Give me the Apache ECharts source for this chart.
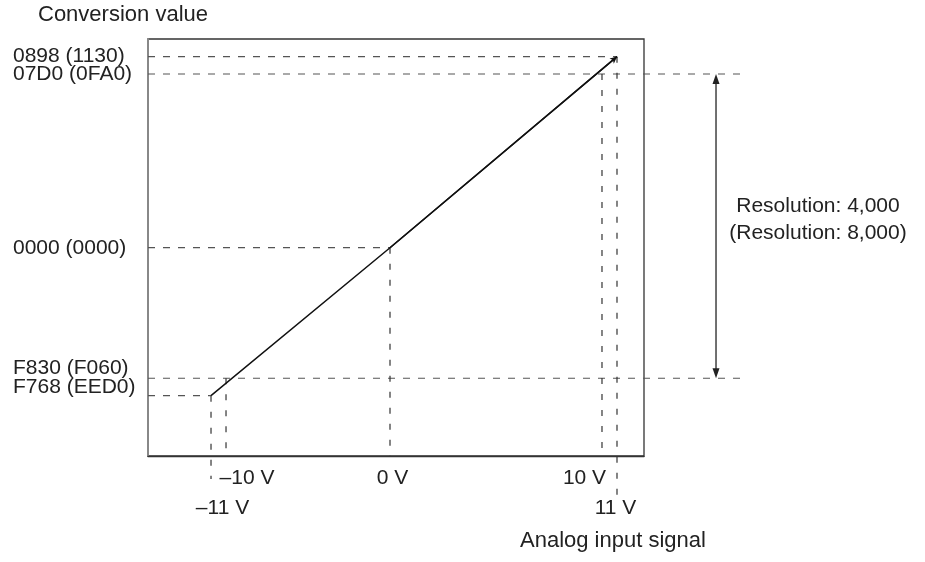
<!DOCTYPE html>
<html>
<head>
<meta charset="utf-8">
<script src="https://cdn.jsdelivr.net/npm/echarts@6/dist/echarts.min.js"></script>
<style>html,body{margin:0;padding:0;background:#fff}#c{width:925px;height:562px}</style>
</head>
<body>
<div id="c"></div>
<script>
// ---------------- data ----------------
const voltTicks = [-11, -10, 0, 10, 11];
const voltLabels = ['–11 V', '–10 V', '0 V', '10 V', '11 V'];
const countTicks = [-2200, -2000, 0, 2000, 2200];
const countLabels = ['F768 (EED0)', 'F830 (F060)', '0000 (0000)', '07D0 (0FA0)', '0898 (1130)'];
const lineVolts = [-11, 0, 11];
const lineCounts = [-2200, 0, 2200];
// dashed guide lines: [x1, y1, x2, y2] in volts / counts
const hGuides = [[-15.2, 2200, 11, 2200], [-15.2, 2000, 19.55, 2000], [-15.2, 0, 0, 0], [-15.2, -2000, 19.55, -2000], [-15.2, -2200, -11, -2200]];
const vGuides = [[-11, -2200, -11, -3160], [-10, -2000, -10, -2895], [0, 0, 0, -2895], [10, 2000, 10, -2895], [11, 2200, 11, -3356]];
// resolution span arrow: [x, yTop, yBottom]
const resolutionSpan = [[17.6, 2000, -2000]];
const resolutionText = 'Resolution: 4,000\n(Resolution: 8,000)';
const yTitle = 'Conversion value';
const xTitle = 'Analog input signal';

// ---------------- chart ----------------
const FONT = "'Liberation Sans', Arial, Helvetica, sans-serif";
const FS = 21;
const TXT = '#222';
const chart = echarts.init(document.getElementById('c'), null, {renderer: 'canvas'});

function rs(pad) { return {padding: pad, fontSize: FS, color: TXT, fontFamily: FONT}; }
const xRich = {
  a0: rs([30, 0, 0, 23]),
  a1: rs([0, 0, 0, 42]),
  a2: rs([0, 0, 0, 5]),
  a3: rs([0, 35, 0, 0]),
  a4: rs([30, 3, 0, 0])
};
const yRich = {
  b0: rs([0, 0, 16, 0]),
  b1: rs([0, 0, 20, 0]),
  b2: rs([0, 0, 0, 0]),
  b3: rs([0, 0, 0, 0]),
  b4: rs([0, 0, 0, 0])
};

function guideRender(color, dash) {
  return function (params, api) {
    const p1 = api.coord([api.value(0), api.value(1)]);
    const p2 = api.coord([api.value(2), api.value(3)]);
    return {
      type: 'line',
      shape: {x1: p1[0], y1: p1[1], x2: p2[0], y2: p2[1]},
      style: {stroke: color, lineWidth: 1.2, lineDash: dash, fill: null}
    };
  };
}

function yLabelFmt(v) {
  const i = countTicks.indexOf(v);
  return i < 0 ? '' : '{b' + i + '|' + countLabels[i] + '}';
}
function makeYAxis(values, showLine) {
  return {
    type: 'value', min: -2895, max: 2403, position: 'left', offset: 0,
    breaks: [{start: -1800, end: -200, gap: 1103}],
    breakArea: {show: false, itemStyle: {opacity: 0}},
    axisLine: {show: showLine, onZero: false, breakLine: false, lineStyle: {color: '#888', width: 2}},
    axisTick: {show: false},
    splitLine: {show: false},
    axisLabel: {customValues: values, margin: 135, align: 'left', hideOverlap: false, formatter: yLabelFmt, rich: yRich}
  };
}

const option = {
  animation: false,
  textStyle: {fontFamily: FONT},
  grid: {left: 148, right: 281, top: 39, bottom: 106, show: true, borderColor: '#333', borderWidth: 1.3, containLabel: false},
  xAxis: {
    type: 'value', min: -15.2, max: 12.8,
    breaks: [{start: -9, end: -1, gap: 8.93}, {start: 1, end: 9, gap: 12.13}],
    breakArea: {show: false, itemStyle: {opacity: 0}},
    axisLine: {show: true, onZero: false, breakLine: false, lineStyle: {color: '#333', width: 1.3}},
    axisTick: {show: false},
    splitLine: {show: false},
    axisLabel: {
      customValues: voltTicks, margin: 12, hideOverlap: false,
      formatter: function (v) { const i = voltTicks.indexOf(v); return i < 0 ? '' : '{a' + i + '|' + voltLabels[i] + '}'; },
      rich: xRich
    }
  },
  // two label layers on the same left axis so close labels are not dropped
  yAxis: [
    makeYAxis([countTicks[1], countTicks[2], countTicks[4]], true),
    makeYAxis([countTicks[0], countTicks[3]], false)
  ],
  series: [
    {
      type: 'custom', name: 'hGuides', data: hGuides, clip: false, silent: true, z: 2,
      encode: {x: [0, 2], y: [1, 3]},
      renderItem: guideRender('#555', [7, 8])
    },
    {
      type: 'custom', name: 'vGuides', data: vGuides, clip: false, silent: true, z: 2,
      encode: {x: [0, 2], y: [1, 3]},
      renderItem: guideRender('#333', [6, 10])
    },
    {
      type: 'line', name: 'conversion', clip: false, z: 5,
      data: lineVolts.map(function (v, i) { return [v, lineCounts[i]]; }),
      symbol: 'none',
      lineStyle: {color: '#111', width: 1.5},
      markLine: {
        silent: true, symbol: ['none', 'arrow'], symbolSize: [5, 7],
        label: {show: false},
        lineStyle: {color: '#111', width: 1.5, type: 'solid'},
        data: [[{coord: [lineVolts[1], lineCounts[1]]}, {coord: [lineVolts[2], lineCounts[2]]}]]
      }
    },
    {
      type: 'custom', name: 'resolution', data: resolutionSpan, clip: false, silent: true, z: 3,
      encode: {x: 0, y: [1, 2]},
      renderItem: function (params, api) {
        const x = api.value(0);
        const t = api.coord([x, api.value(1)]);
        const b = api.coord([x, api.value(2)]);
        const w = 3.5, h = 10;
        return {
          type: 'group', children: [
            {type: 'line', shape: {x1: t[0], y1: t[1] + h - 1, x2: b[0], y2: b[1] - h + 1}, style: {stroke: '#333', lineWidth: 1.4}},
            {type: 'polygon', shape: {points: [[t[0], t[1]], [t[0] - w, t[1] + h], [t[0] + w, t[1] + h]]}, style: {fill: '#222'}},
            {type: 'polygon', shape: {points: [[b[0], b[1]], [b[0] - w, b[1] - h], [b[0] + w, b[1] - h]]}, style: {fill: '#222'}}
          ]
        };
      }
    }
  ],
  graphic: [
    {type: 'text', x: 38, y: 15, style: {text: yTitle, font: '22px ' + FONT, fill: TXT, textAlign: 'left', textVerticalAlign: 'middle'}},
    {type: 'text', x: 520, y: 541, style: {text: xTitle, font: '22px ' + FONT, fill: TXT, textAlign: 'left', textVerticalAlign: 'middle'}},
    {type: 'text', x: 818, y: 220, style: {text: resolutionText, font: FS + 'px ' + FONT, fill: TXT, textAlign: 'center', textVerticalAlign: 'middle', lineHeight: 27}}
  ]
};
chart.setOption(option);
</script>
</body>
</html>
